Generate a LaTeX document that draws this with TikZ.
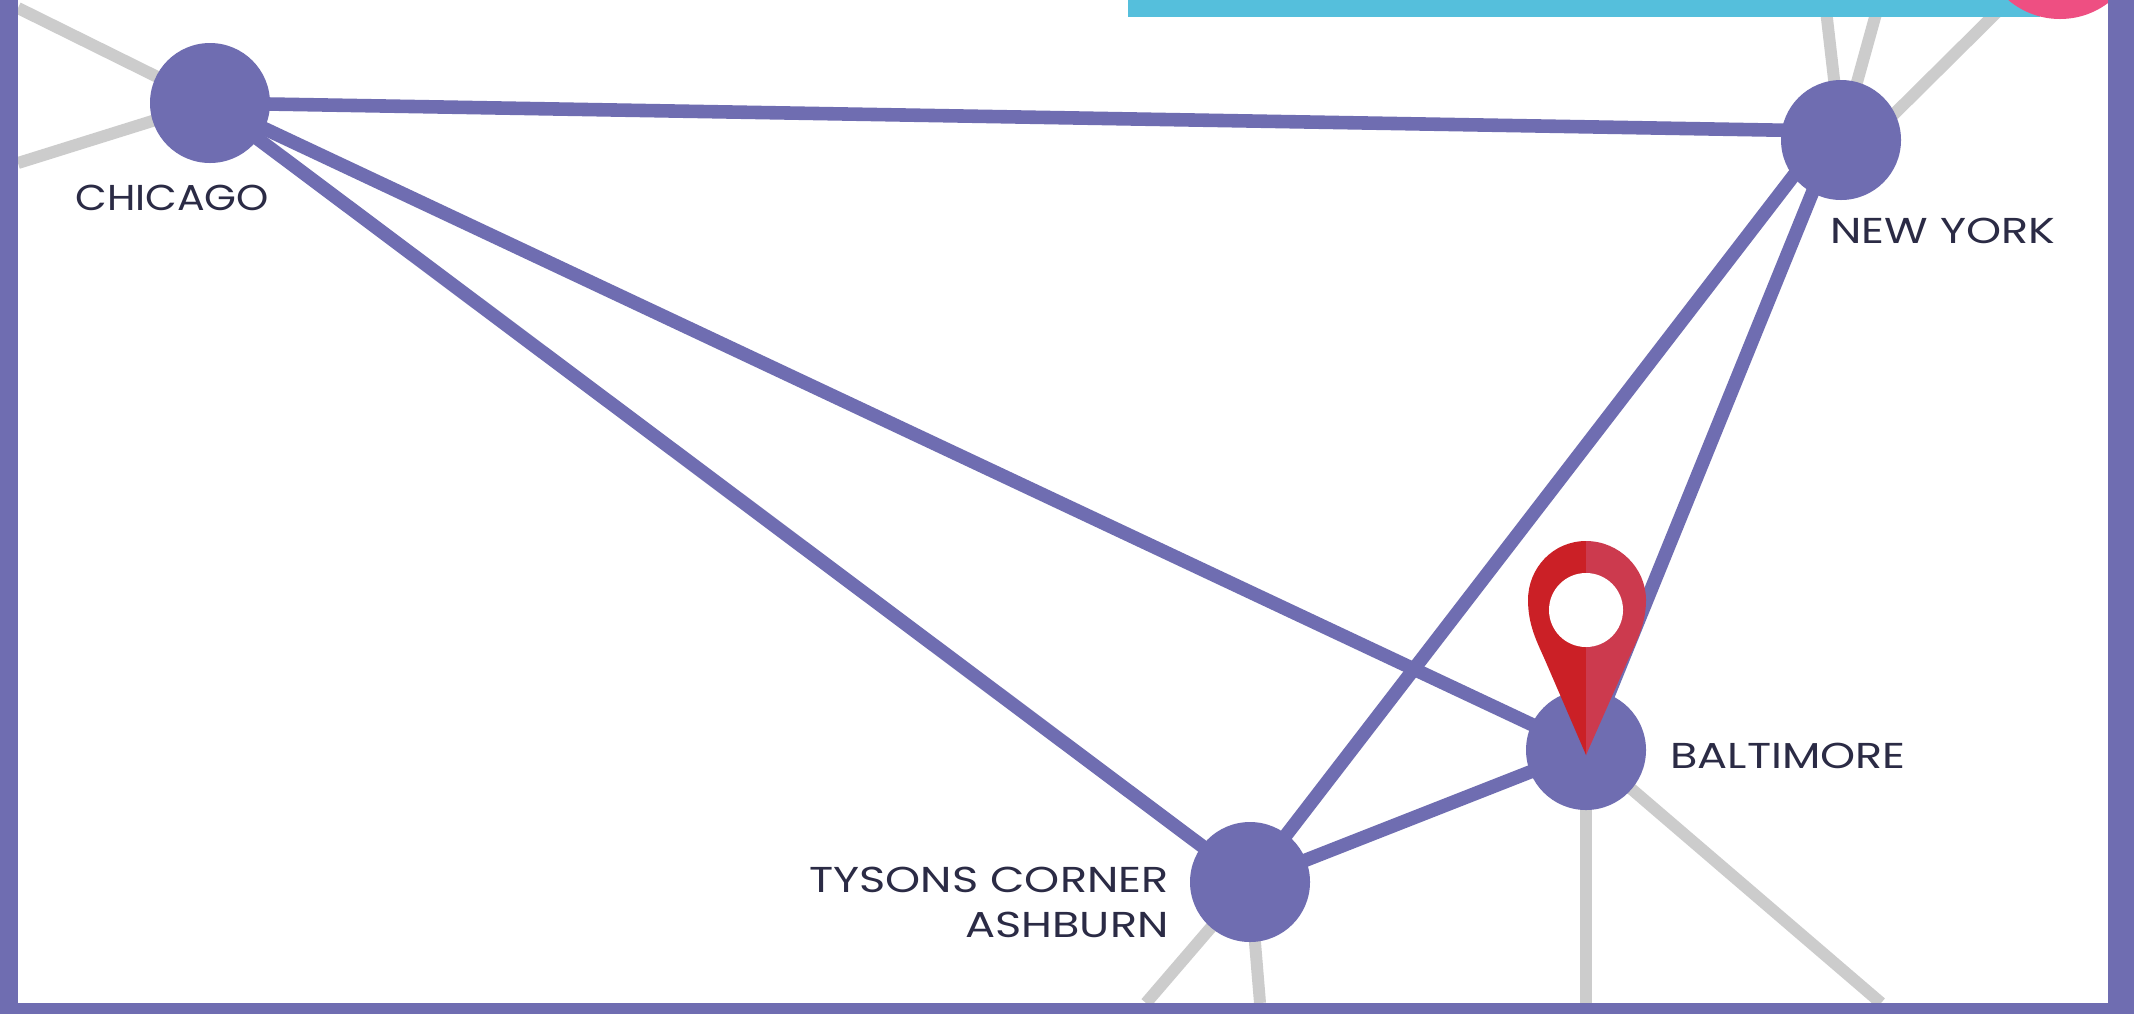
\documentclass[tikz,border=0pt]{standalone}
\usepackage{fontspec}
\setmainfont[FakeStretch=1.24]{Poppins}
\newfontfamily\chifont[FakeStretch=1.14]{Poppins}
\usepackage{tikz}
\usetikzlibrary{backgrounds}
\definecolor{netpurple}{HTML}{6F6DB1}
\definecolor{netgray}{HTML}{CCCCCC}
\definecolor{bandcyan}{HTML}{55BFDC}
\definecolor{dotpink}{HTML}{EE4F82}
\definecolor{pinred}{HTML}{CB2026}
\definecolor{pinrose}{HTML}{CC3A4E}
\definecolor{lblink}{HTML}{2B2B45}

\begin{document}
\begin{tikzpicture}[x=0.5pt,y=-0.5pt]
	\def \rowfloor{1003}
	\def \rowband{17}
	\def \colleft{18}
	\def \colright{2108}
	\tikzstyle{city-node}=[circle,fill=netpurple,inner sep=0pt,outer sep=-2pt,minimum size=60pt]
	\tikzstyle{city-lbl}=[text=lblink,inner sep=0pt,font=\fontsize{18}{23}\selectfont]
	\tikzstyle{main-link}=[draw=netpurple,line width=6.8pt]
	\tikzstyle{side-link}=[draw=netgray,line width=6pt]
	\useasboundingbox (0,0) rectangle (2134,1014);

	% cities
	\node[city-node] 	(chi)	at (210,103)	{};
	\node[city-node] 	(ny)	at (1841,140)	{};
	\node[city-node] 	(balt)	at (1586,750)	{};
	\node[city-node] 	(tys)	at (1250,882)	{};

	% free ends of the grey lines
	\coordinate (chi0) at (\colleft,8);
	\coordinate (chi1) at (\colleft,163);
	\coordinate (ny0) at (1826,10);
	\coordinate (ny1) at (1877,10);
	\coordinate (ny2) at (1999,10);
	\coordinate (balt0) at (1586,\rowfloor);
	\coordinate (balt1) at (1881,\rowfloor);
	\coordinate (tys0) at (1146,\rowfloor);
	\coordinate (tys1) at (1260,\rowfloor);

	\begin{pgfonlayer}{background}
	\fill[white] (0,0) rectangle (2134,1014);
	\path[side-link] (chi) edge (chi0)
		(chi) edge (chi1)
		(ny) edge (ny0)
		(ny) edge (ny1)
		(ny.25) edge (ny2)
		(balt) edge (balt0)
		(balt) edge (balt1)
		(tys) edge (tys0)
		(tys) edge (tys1);
	\end{pgfonlayer}

	\path[main-link] (chi) edge (ny.170)
		(chi) edge (balt)
		(chi) edge (tys)
		(ny.216) edge (tys)
		(ny.241) edge (balt.68)
		(tys) edge (balt);

	% top band and frame
	\fill[bandcyan] (1128,0) rectangle (2040,\rowband);
	\fill[dotpink] (2060,-61) circle (80);
	\fill[netpurple] (0,0) rectangle (\colleft,1014);
	\fill[netpurple] (\colright,0) rectangle (2134,1014);
	\fill[netpurple] (0,\rowfloor) rectangle (2134,1014);

	% pin
	\fill[pinred] (1586,541) .. controls (1553,541) and (1528,568) .. (1528,600)
		.. controls (1528,625) and (1537,642) .. (1545,660) -- (1586,755) -- cycle;
	\fill[pinrose] (1586,541) .. controls (1619,541) and (1646,568) .. (1646,600)
		.. controls (1646,625) and (1636,642) .. (1628,660) -- (1586,755) -- cycle;
	\fill[white] (1586,610) circle (37);

	% labels
	\node[city-lbl,anchor=base west] 	(lblchi)	at (75,210)		{\chifont CHICAGO};
	\node[city-lbl,anchor=base west] 	(lblny)		at (1830,243)	{NEW YORK};
	\node[city-lbl,anchor=base west] 	(lblbalt)	at (1670,768)	{BALTIMORE};
	\node[city-lbl,anchor=base east] 	(lbltys)	at (1169,892)	{TYSONS CORNER};
	\node[city-lbl,anchor=base east] 	(lblash)	at (1169,937)	{ASHBURN};
\end{tikzpicture}
\end{document}
